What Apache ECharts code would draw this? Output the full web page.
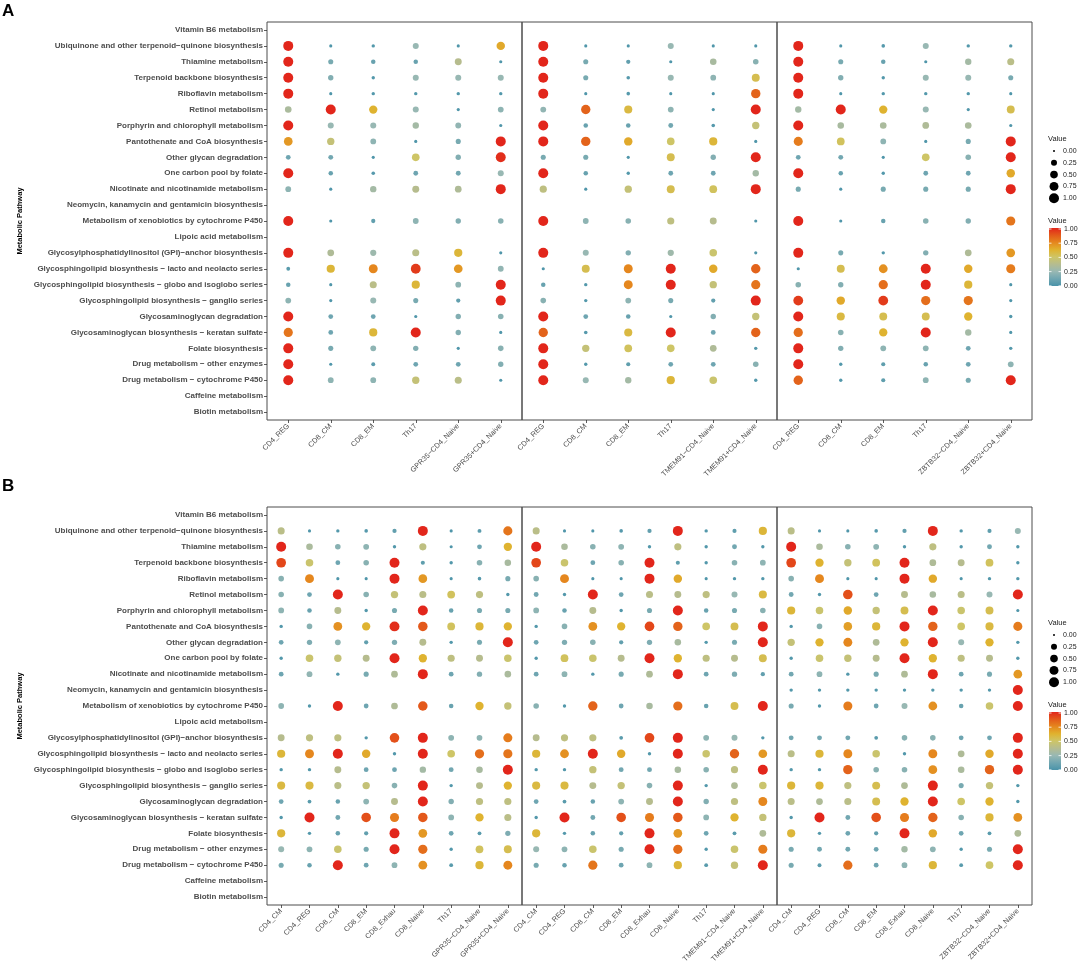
<!DOCTYPE html>
<html><head><meta charset="utf-8">
<script src="https://cdn.jsdelivr.net/npm/echarts@6/dist/echarts.min.js"></script>
<style>html,body{margin:0;padding:0;background:#fff}#c{width:1080px;height:968px}</style>
</head><body><div id="c"></div>
<script>
const pathways = [
 'Vitamin B6 metabolism',
 'Ubiquinone and other terpenoid\u2212quinone biosynthesis',
 'Thiamine metabolism',
 'Terpenoid backbone biosynthesis',
 'Riboflavin metabolism',
 'Retinol metabolism',
 'Porphyrin and chlorophyll metabolism',
 'Pantothenate and CoA biosynthesis',
 'Other glycan degradation',
 'One carbon pool by folate',
 'Nicotinate and nicotinamide metabolism',
 'Neomycin, kanamycin and gentamicin biosynthesis',
 'Metabolism of xenobiotics by cytochrome P450',
 'Lipoic acid metabolism',
 'Glycosylphosphatidylinositol (GPI)\u2212anchor biosynthesis',
 'Glycosphingolipid biosynthesis \u2212 lacto and neolacto series',
 'Glycosphingolipid biosynthesis \u2212 globo and isoglobo series',
 'Glycosphingolipid biosynthesis \u2212 ganglio series',
 'Glycosaminoglycan degradation',
 'Glycosaminoglycan biosynthesis \u2212 keratan sulfate',
 'Folate biosynthesis',
 'Drug metabolism \u2212 other enzymes',
 'Drug metabolism \u2212 cytochrome P450',
 'Caffeine metabolism',
 'Biotin metabolism'
];

const cellsA_GPR35 = ['CD4_REG','CD8_CM','CD8_EM','Th17','GPR35\u2212CD4_Naive','GPR35+CD4_Naive'];
const cellsA_TMEM91 = ['CD4_REG','CD8_CM','CD8_EM','Th17','TMEM91\u2212CD4_Naive','TMEM91+CD4_Naive'];
const cellsA_ZBTB32 = ['CD4_REG','CD8_CM','CD8_EM','Th17','ZBTB32\u2212CD4_Naive','ZBTB32+CD4_Naive'];
const cellsB_GPR35 = ['CD4_CM','CD4_REG','CD8_CM','CD8_EM','CD8_Exhau','CD8_Naive','Th17','GPR35\u2212CD4_Naive','GPR35+CD4_Naive'];
const cellsB_TMEM91 = ['CD4_CM','CD4_REG','CD8_CM','CD8_EM','CD8_Exhau','CD8_Naive','Th17','TMEM91\u2212CD4_Naive','TMEM91+CD4_Naive'];
const cellsB_ZBTB32 = ['CD4_CM','CD4_REG','CD8_CM','CD8_EM','CD8_Exhau','CD8_Naive','Th17','ZBTB32\u2212CD4_Naive','ZBTB32+CD4_Naive'];

const N = null;
const A_GPR35 = [
 N,
 [1.0,.02,.03,.25,.02,.65],
 [1.0,.15,.10,.10,.38,.02],
 [1.0,.18,.03,.25,.25,.25],
 [1.0,.02,.03,.03,.03,.03],
 [.33,1.0,.62,.25,.02,.22],
 [1.0,.25,.25,.30,.23,.02],
 [.70,.45,.22,.02,.15,1.0],
 [.12,.13,.02,.50,.18,.98],
 [1.0,.10,.04,.12,.13,.25],
 [.22,.02,.30,.38,.35,1.0],
 N,
 [1.0,.02,.08,.22,.18,.20],
 N,
 [1.0,.35,.27,.40,.60,.02],
 [.05,.60,.75,.95,.70,.23],
 [.10,.02,.40,.60,.22,1.0],
 [.22,.02,.25,.15,.08,1.0],
 [1.0,.12,.12,.02,.18,.20],
 [.80,.12,.60,1.0,.18,.02],
 [1.0,.15,.22,.18,.02,.20],
 [1.0,.02,.06,.12,.12,.18],
 [1.0,.22,.22,.45,.40,.02],
 N,
 N
];
const A_TMEM91 = [
 N,
 [1.0,.02,.02,.25,.02,.02],
 [1.0,.15,.08,.02,.32,.20],
 [1.0,.15,.04,.25,.22,.55],
 [1.0,.02,.04,.02,.02,.85],
 [.23,.85,.58,.22,.02,1.0],
 [1.0,.10,.10,.13,.04,.45],
 [1.0,.85,.65,.50,.60,.02],
 [.15,.15,.02,.55,.18,1.0],
 [1.0,.10,.03,.12,.12,.30],
 [.42,.02,.45,.55,.52,1.0],
 N,
 [1.0,.22,.20,.42,.38,.02],
 N,
 [1.0,.25,.18,.28,.48,.02],
 [.02,.55,.75,1.0,.65,.85],
 [.10,.03,.75,1.0,.45,.80],
 [.20,.03,.22,.15,.08,1.0],
 [1.0,.12,.10,.02,.18,.45],
 [.85,.04,.58,1.0,.12,.85],
 [1.0,.45,.52,.50,.35,.03],
 [1.0,.03,.07,.12,.12,.20],
 [1.0,.25,.30,.60,.48,.03],
 N,
 N
];
const A_ZBTB32 = [
 N,
 [1.0,.02,.04,.25,.03,.03],
 [1.0,.15,.10,.02,.30,.40],
 [1.0,.18,.03,.25,.25,.15],
 [1.0,.02,.03,.03,.03,.02],
 [.30,1.0,.62,.25,.02,.55],
 [1.0,.32,.33,.35,.33,.02],
 [.78,.52,.22,.02,.15,1.0],
 [.12,.13,.02,.50,.20,1.0],
 [1.0,.10,.03,.12,.12,.65],
 [.15,.02,.15,.15,.15,1.0],
 N,
 [1.0,.02,.10,.20,.18,.80],
 N,
 [1.0,.15,.03,.18,.35,.70],
 [.02,.55,.72,1.0,.65,.78],
 [.20,.18,.82,1.0,.60,.02],
 [.95,.65,.95,.82,.80,.02],
 [1.0,.58,.55,.55,.62,.03],
 [.82,.20,.62,1.0,.30,.02],
 [1.0,.18,.22,.22,.12,.03],
 [1.0,.03,.07,.10,.12,.22],
 [.85,.03,.07,.22,.15,1.0],
 N,
 N
];
const B_GPR35 = [
 N,
 [.40,.02,.03,.04,.08,1.0,.02,.06,.80],
 [1.0,.33,.20,.22,.03,.42,.02,.12,.62],
 [.92,.48,.12,.20,1.0,.07,.03,.20,.32],
 [.20,.75,.02,.02,1.0,.70,.02,.04,.15],
 [.20,.12,1.0,.20,.45,.40,.52,.42,.03],
 [.22,.10,.38,.03,.15,1.0,.10,.15,.15],
 [.03,.20,.72,.62,.98,.88,.52,.60,.62],
 [.12,.17,.22,.08,.17,.38,.03,.15,1.0],
 [.03,.48,.45,.38,1.0,.62,.42,.38,.48],
 [.12,.23,.03,.15,.35,1.0,.12,.18,.33],
 N,
 [.22,.03,1.0,.12,.35,.88,.10,.62,.45],
 N,
 [.38,.42,.42,.03,.90,1.0,.22,.22,.78],
 [.60,.75,1.0,.65,.03,1.0,.50,.82,.80],
 [.03,.03,.38,.12,.12,.30,.13,.32,1.0],
 [.58,.58,.40,.45,.20,1.0,.03,.38,.62],
 [.12,.05,.10,.22,.38,1.0,.18,.42,.42],
 [.03,1.0,.13,.90,.78,.88,.22,.62,.40],
 [.60,.03,.10,.08,1.0,.70,.12,.05,.17],
 [.25,.22,.48,.15,1.0,.82,.03,.52,.55],
 [.15,.10,1.0,.12,.22,.72,.05,.60,.75],
 N,
 N
];
const B_TMEM91 = [
 N,
 [.40,.02,.02,.04,.08,1.0,.03,.07,.60],
 [1.0,.33,.20,.22,.03,.42,.03,.13,.03],
 [.92,.48,.12,.20,1.0,.07,.03,.20,.22],
 [.20,.75,.02,.02,1.0,.65,.02,.03,.03],
 [.13,.03,1.0,.12,.40,.38,.42,.25,.58],
 [.22,.10,.38,.03,.15,1.0,.10,.15,.20],
 [.03,.20,.72,.62,.92,.85,.50,.55,1.0],
 [.12,.17,.20,.08,.17,.32,.03,.15,1.0],
 [.03,.52,.48,.38,1.0,.62,.42,.38,.55],
 [.12,.22,.03,.15,.35,1.0,.12,.17,.08],
 N,
 [.20,.03,.85,.12,.32,.82,.10,.55,1.0],
 N,
 [.38,.42,.42,.05,.92,1.0,.22,.25,.03],
 [.60,.72,1.0,.65,.03,1.0,.48,.85,.70],
 [.03,.03,.45,.13,.13,.32,.20,.42,1.0],
 [.58,.58,.38,.45,.20,1.0,.03,.35,.48],
 [.12,.05,.10,.22,.38,1.0,.18,.42,.75],
 [.03,1.0,.13,.90,.78,.88,.22,.62,.45],
 [.60,.03,.10,.08,1.0,.70,.12,.05,.35],
 [.25,.22,.48,.15,1.0,.82,.03,.48,.78],
 [.15,.10,.80,.12,.22,.60,.05,.45,1.0],
 N,
 N
];
const B_ZBTB32 = [
 N,
 [.40,.02,.02,.04,.08,1.0,.03,.07,.25],
 [1.0,.33,.20,.22,.03,.42,.03,.13,.03],
 [.92,.62,.45,.52,1.0,.35,.38,.52,.03],
 [.20,.75,.02,.02,1.0,.65,.02,.03,.03],
 [.13,.03,.90,.12,.38,.32,.40,.25,1.0],
 [.60,.48,.65,.45,.55,1.0,.48,.55,.02],
 [.03,.20,.68,.60,1.0,.85,.50,.58,.78],
 [.45,.62,.75,.35,.62,1.0,.25,.62,.03],
 [.03,.48,.45,.38,1.0,.62,.42,.38,.03],
 [.13,.22,.03,.15,.35,1.0,.12,.15,.70],
 [.03,.03,.03,.03,.03,.03,.03,.03,1.0],
 [.15,.03,.78,.12,.25,.72,.10,.48,1.0],
 N,
 [.13,.13,.13,.05,.20,.20,.12,.12,1.0],
 [.40,.60,.75,.48,.03,.75,.35,.65,1.0],
 [.03,.03,.85,.20,.20,.72,.33,.85,1.0],
 [.60,.60,.42,.55,.35,1.0,.15,.45,.03],
 [.40,.35,.40,.55,.62,1.0,.50,.62,.03],
 [.03,1.0,.13,.90,.78,.85,.20,.60,.72],
 [.60,.03,.12,.08,1.0,.65,.12,.05,.35],
 [.15,.13,.13,.12,.30,.22,.03,.15,1.0],
 [.15,.06,.82,.12,.22,.60,.05,.50,1.0],
 N,
 N
];

const sizeLegendValues = [0, 0.25, 0.5, 0.75, 1];
const sizeLegendLabels = ['0.00','0.25','0.50','0.75','1.00'];
const colorLegendLabels = ['1.00','0.75','0.50','0.25','0.00'];

// ---- styling / layout ----
const palette = ['#4A93A9','#70A6B1','#98B8B3','#B5BC90','#CEC566','#E0B22E','#E5871E','#E35A1A','#E2261B'];
const FONT = '"Liberation Sans", Arial, Helvetica, sans-serif';
function sz(v){ return 2 + 8 * Math.sqrt(Math.max(0, v)); }

const panels = [
 {rows: A_GPR35, cells: cellsA_GPR35, left: 267, top: 22, yLabels: true},
 {rows: A_TMEM91, cells: cellsA_TMEM91, left: 522, top: 22, yLabels: false},
 {rows: A_ZBTB32, cells: cellsA_ZBTB32, left: 777, top: 22, yLabels: false},
 {rows: B_GPR35, cells: cellsB_GPR35, left: 267, top: 507, yLabels: true},
 {rows: B_TMEM91, cells: cellsB_TMEM91, left: 522, top: 507, yLabels: false},
 {rows: B_ZBTB32, cells: cellsB_ZBTB32, left: 777, top: 507, yLabels: false}
];
const PW = 255, PH = 398;

const grid = [], xAxis = [], yAxis = [], series = [];
panels.forEach((p, i) => {
  grid.push({left: p.left, top: p.top, width: PW, height: PH, show: true,
    borderColor: '#4d4d4d', borderWidth: 1, backgroundColor: 'transparent'});
  xAxis.push({type: 'category', gridIndex: i, data: p.cells, boundaryGap: true,
    axisLine: {show: false},
    axisTick: {show: true, alignWithLabel: true, interval: 0, length: 3, lineStyle: {color: '#333', width: 0.8}},
    axisLabel: {rotate: 45, interval: 0, fontSize: 7.3, color: '#4d4d4d', margin: 5, fontFamily: FONT},
    splitLine: {show: false}});
  yAxis.push({type: 'category', gridIndex: i, data: pathways, inverse: true, boundaryGap: true,
    axisLine: {show: false},
    axisTick: {show: p.yLabels, alignWithLabel: true, interval: 0, length: 3, lineStyle: {color: '#333', width: 0.8}},
    axisLabel: {show: p.yLabels, interval: 0, fontSize: 8, fontWeight: 'bold', color: '#4d4d4d', margin: 4, fontFamily: FONT},
    splitLine: {show: false}});
  const data = [];
  p.rows.forEach((row, r) => {
    if (!row) return;
    row.forEach((v, c) => data.push([c, r, v]));
  });
  series.push({type: 'scatter', xAxisIndex: i, yAxisIndex: i, data: data,
    symbol: 'circle', symbolSize: (val) => sz(val[2]),
    itemStyle: {opacity: 1}, silent: true, animation: false});
});

// ---- legends (graphics) ----
const graphic = [];
function txt(x, y, s, o){ return Object.assign({type: 'text', x: x, y: y, silent: true,
  style: Object.assign({text: s, fontSize: 7.5, fill: '#222', fontFamily: FONT, align: 'left', verticalAlign: 'middle'}, o || {})}); }

graphic.push(txt(2, 11, 'A', {fontSize: 17, fontWeight: 'bold', fill: '#000'}));
graphic.push(txt(2, 486, 'B', {fontSize: 17, fontWeight: 'bold', fill: '#000'}));
[22 + PH / 2, 507 + PH / 2].forEach(cy => {
  graphic.push({type: 'text', x: 20, y: cy, rotation: Math.PI / 2, silent: true,
    style: {text: 'Metabolic Pathway', fontSize: 7.5, fontWeight: 'bold', fill: '#000', fontFamily: FONT, align: 'center', verticalAlign: 'middle'}});
});

const gradStops = palette.map((c, k) => ({offset: 1 - k / (palette.length - 1), color: c}));
[0, 484].forEach(off => {
  graphic.push(txt(1048, 139 + off, 'Value', {fontSize: 7.5}));
  sizeLegendValues.forEach((v, k) => {
    const cy = 151 + off + k * 11.8;
    graphic.push({type: 'circle', silent: true, shape: {cx: 1054, cy: cy, r: sz(v) / 2}, style: {fill: '#000'}});
    graphic.push(txt(1063, cy, sizeLegendLabels[k], {fontSize: 7}));
  });
  graphic.push(txt(1048, 221 + off, 'Value', {fontSize: 7.5}));
  graphic.push({type: 'rect', silent: true, shape: {x: 1049, y: 228 + off, width: 12, height: 58},
    style: {fill: new echarts.graphic.LinearGradient(0, 0, 0, 1, gradStops.slice().reverse())}});
  colorLegendLabels.forEach((s, k) => {
    const cy = 229 + off + k * 14.2;
    graphic.push({type: 'line', silent: true, shape: {x1: 1049, y1: cy, x2: 1051.5, y2: cy}, style: {stroke: '#fff', lineWidth: 0.8}});
    graphic.push({type: 'line', silent: true, shape: {x1: 1058.5, y1: cy, x2: 1061, y2: cy}, style: {stroke: '#fff', lineWidth: 0.8}});
    graphic.push(txt(1064, cy, s, {fontSize: 7}));
  });
});

const chart = echarts.init(document.getElementById('c'), null, {renderer: 'canvas'});
chart.setOption({
  backgroundColor: '#fff',
  animation: false,
  grid: grid, xAxis: xAxis, yAxis: yAxis, series: series,
  visualMap: {type: 'continuous', show: false, min: 0, max: 1, dimension: 2,
    seriesIndex: [0,1,2,3,4,5], inRange: {color: palette}},
  graphic: graphic
});
</script></body></html>
